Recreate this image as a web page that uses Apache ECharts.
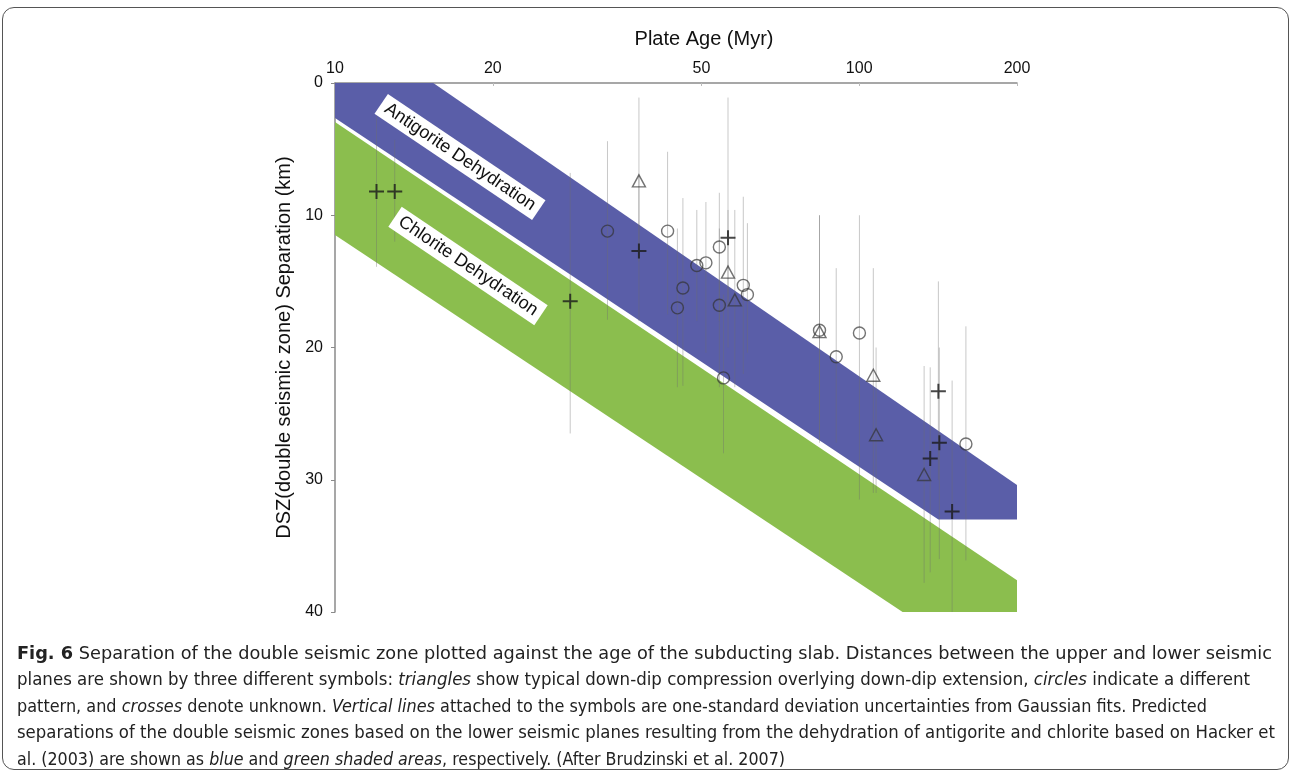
<!DOCTYPE html>
<html>
<head>
<meta charset="utf-8">
<script src="https://cdn.jsdelivr.net/npm/echarts@6/dist/echarts.min.js"></script>
<style>
  body { margin: 0; background: #fff; }
  #wrap { position: relative; width: 1293px; height: 773px; overflow: hidden; }
  #frame { position: absolute; left: 2px; top: 7px; width: 1287px; height: 763px;
           border: 1.5px solid #555; border-radius: 12px; box-sizing: border-box; }
  #chart { position: absolute; left: 0; top: 0; width: 1293px; height: 773px; }
  #caption { position: absolute; left: 17px; top: 640px; color: #222;
             font-family: "Liberation Sans Narrow", "DejaVu Sans Condensed", "Roboto", "Noto Sans", sans-serif;
             font-size: 18px; line-height: 26.4px; }
  #caption div { white-space: nowrap; transform-origin: 0 50%; width: max-content; }
</style>
</head>
<body>
<div id="wrap">
  <div id="frame"></div>
  <div id="chart"></div>
  <div id="caption">
    <div data-w="1255"><b>Fig. 6</b> Separation of the double seismic zone plotted against the age of the subducting slab. Distances between the upper and lower seismic</div>
    <div data-w="1233">planes are shown by three different symbols: <i>triangles</i> show typical down-dip compression overlying down-dip extension, <i>circles</i> indicate a different</div>
    <div data-w="1190">pattern, and <i>crosses</i> denote unknown. <i>Vertical lines</i> attached to the symbols are one-standard deviation uncertainties from Gaussian fits. Predicted</div>
    <div data-w="1258">separations of the double seismic zones based on the lower seismic planes resulting from the dehydration of antigorite and chlorite based on Hacker et</div>
    <div data-w="768">al. (2003) are shown as <i>blue</i> and <i>green shaded areas</i>, respectively. (After Brudzinski et al. 2007)</div>
  </div>
</div>
<script>
// axis ticks
const xTicks = [10, 20, 50, 100, 200];

// predicted separation bands, [age (Myr), separation (km)]
const antigoriteBand = [[10, 0], [15.4, 0], [200, 30.4], [200, 33], [141.6, 33], [10, 2.65]];
const chloriteBand = [[10, 2.95], [200, 37.6], [200, 40], [121, 40], [10, 11.5]];

// triangles: down-dip compression over down-dip extension
const triAge = [38.0, 56.2, 57.9, 84.0, 106.4, 107.7, 133];
const triSep = [7.4, 14.3, 16.4, 18.8, 22.1, 26.6, 29.6];
const triLow = [1.1, 9.6, 9.6, 10, 14, 20, 21.4];
const triHigh = [13.5, 20, 23, 27.2, 31, 31, 37.8];

// circles: different pattern
const cirAge = [33.1, 43.1, 46.1, 45.0, 49.0, 51.0, 54.1, 54.1, 55.1, 60.1, 61.2, 84.0, 90.4, 100.1, 159.8];
const cirSep = [11.2, 11.2, 15.5, 17.0, 13.8, 13.6, 12.4, 16.8, 22.3, 15.3, 16.0, 18.7, 20.7, 18.9, 27.3];
const cirLow = [4.4, 5.2, 8.7, 11, 9.6, 9.0, 8.3, 11, 16, 8.6, 10.6, 10, 14, 10, 18.4];
const cirHigh = [17.9, 17.5, 22.9, 23, 18, 20.4, 18, 23, 28, 22, 20.4, 27, 27.2, 31.5, 36.1];

// crosses: unknown
const crsAge = [12.0, 13.0, 28.1, 38.0, 56.2, 141.6, 142.2, 136.6, 150.4];
const crsSep = [8.2, 8.2, 16.5, 12.7, 11.7, 23.3, 27.2, 28.4, 32.4];
const crsLow = [2.5, 4.3, 6.8, 7, 1.1, 15, 20, 21.5, 22.5];
const crsHigh = [13.9, 12, 26.5, 18, 17, 30, 36, 37, 40];

function zip(a, b) { return a.map((v, i) => [v, b[i]]); }
function bars(a, lo, hi) { return a.map((v, i) => [v, lo[i], hi[i]]); }

const errData = bars(triAge, triLow, triHigh)
  .concat(bars(cirAge, cirLow, cirHigh))
  .concat(bars(crsAge, crsLow, crsHigh));

function band(pts, color) {
  return {
    type: 'custom',
    silent: true,
    z: 1,
    data: pts,
    renderItem: function (params, api) {
      if (params.dataIndex !== 0) return null;
      return {
        type: 'polygon',
        shape: { points: pts.map(p => api.coord(p)) },
        style: { fill: color }
      };
    }
  };
}

const chart = echarts.init(document.getElementById('chart'));
const axisFont = { fontFamily: 'Liberation Sans, Arial, sans-serif', color: '#111' };
const symStyle = { color: 'transparent', borderColor: 'rgba(50,50,50,0.85)', borderWidth: 1.4 };
const labelFont = '18px Liberation Sans, Arial, sans-serif';

chart.setOption({
  animation: false,
  grid: { left: 335, right: 276, top: 83, bottom: 161 },
  xAxis: {
    type: 'log', logBase: 10, min: 10, max: 200, position: 'top',
    name: 'Plate Age (Myr)', nameLocation: 'middle', nameGap: 34,
    nameTextStyle: Object.assign({ fontSize: 20, padding: [0, 0, 0, 56] }, axisFont),
    axisLine: { lineStyle: { color: '#8a8a8a', width: 1.5 } },
    axisTick: { customValues: xTicks, length: 3, inside: true, lineStyle: { color: '#bbb' } },
    axisLabel: Object.assign({ customValues: xTicks, fontSize: 16, margin: 6 }, axisFont),
    splitLine: { show: false },
    minorTick: { show: false }
  },
  yAxis: {
    type: 'value', inverse: true, min: 0, max: 40, interval: 10,
    name: 'DSZ(double seismic zone) Separation (km)', nameLocation: 'middle', nameGap: 40,
    nameTextStyle: Object.assign({ fontSize: 20 }, axisFont),
    axisLine: { lineStyle: { color: '#8a8a8a', width: 1.5 } },
    axisTick: { length: 4, lineStyle: { color: '#8a8a8a' } },
    axisLabel: Object.assign({ fontSize: 16, margin: 12 }, axisFont),
    splitLine: { show: false }
  },
  series: [
    band(chloriteBand, '#8bbe4e'),
    band(antigoriteBand, '#5a5ea8'),
    {
      type: 'custom', silent: true, z: 3,
      data: errData,
      encode: { x: 0, y: [1, 2] },
      renderItem: function (params, api) {
        const a = api.coord([api.value(0), api.value(1)]);
        const b = api.coord([api.value(0), api.value(2)]);
        return {
          type: 'line',
          shape: { x1: a[0], y1: a[1], x2: b[0], y2: b[1] },
          style: { stroke: 'rgba(110,110,110,0.38)', lineWidth: 1 }
        };
      }
    },
    {
      type: 'scatter', silent: true, z: 5, symbol: 'triangle', symbolSize: [13, 12],
      data: zip(triAge, triSep), itemStyle: symStyle
    },
    {
      type: 'scatter', silent: true, z: 5, symbol: 'circle', symbolSize: 12,
      data: zip(cirAge, cirSep), itemStyle: symStyle
    },
    {
      type: 'scatter', silent: true, z: 5, symbol: 'path://M0,7H14M7,0V14', symbolSize: 15,
      data: zip(crsAge, crsSep),
      itemStyle: { color: 'transparent', borderColor: '#1a1a1a', borderWidth: 2 }
    }
  ],
  graphic: [
    {
      type: 'text', x: 460, y: 157, rotation: -34 * Math.PI / 180, z: 10,
      style: {
        text: 'Antigorite Dehydration', font: labelFont,
        fill: '#111', align: 'center', verticalAlign: 'middle',
        backgroundColor: '#fff', padding: [3, 6]
      }
    },
    {
      type: 'text', x: 468, y: 266, rotation: -34 * Math.PI / 180, z: 10,
      style: {
        text: 'Chlorite Dehydration', font: labelFont,
        fill: '#111', align: 'center', verticalAlign: 'middle',
        backgroundColor: '#fff', padding: [3, 6]
      }
    }
  ]
});

// fit caption lines to their widths in the figure
document.querySelectorAll('#caption div').forEach(function (el) {
  const w = el.getBoundingClientRect().width;
  el.style.transform = 'scaleX(' + (Number(el.dataset.w) / w) + ')';
});
</script>
</body>
</html>
